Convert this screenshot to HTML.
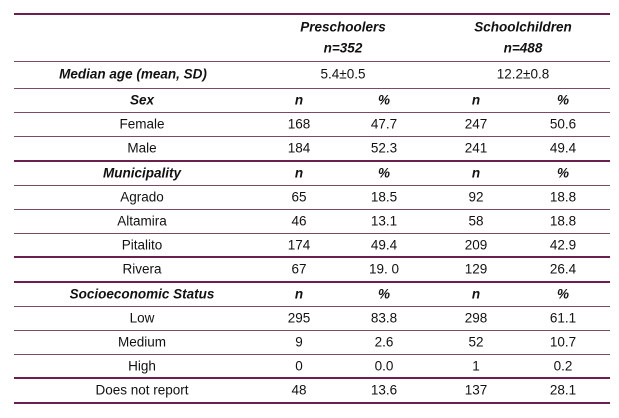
<!DOCTYPE html>
<html><head><meta charset="utf-8"><style>
body{margin:0;width:619px;height:418px;background:#fff;position:relative;overflow:hidden;font-family:"Liberation Sans",sans-serif;font-size:13.5px;color:#111}
.t{position:absolute;transform:translate(-50%,-50%);white-space:nowrap}
.b{font-weight:bold;font-style:italic}
.l{position:absolute;left:14px;width:596px;background:#7a4a68;height:1px}
.k{height:2px;background:#6b1f4f}
</style></head><body>
<div id="tbl"></div>
<script>
const rows=[
 ["Median age (mean, SD)","5.4±0.5","12.2±0.8"],
 ["Sex","n","%","n","%"],
 ["Female","168","47.7","247","50.6"],
 ["Male","184","52.3","241","49.4"],
 ["Municipality","n","%","n","%"],
 ["Agrado","65","18.5","92","18.8"],
 ["Altamira","46","13.1","58","18.8"],
 ["Pitalito","174","49.4","209","42.9"],
 ["Rivera","67","19. 0","129","26.4"],
 ["Socioeconomic Status","n","%","n","%"],
 ["Low","295","83.8","298","61.1"],
 ["Medium","9","2.6","52","10.7"],
 ["High","0","0.0","1","0.2"],
 ["Does not report","48","13.6","137","28.1"]
];
const heads=["Sex","Municipality","Socioeconomic Status"];
const tbl=document.getElementById('tbl');
function txt(s,x,y,bold,name){const d=document.createElement('div');d.className='t'+(bold?' b':'');d.style.left=x+'px';d.style.top=y+'px';d.textContent=s;


tbl.appendChild(d);}
function line(y,thick){const d=document.createElement('div');d.className='l'+(thick?' k':'');d.style.top=y+'px';


tbl.appendChild(d);}
txt("Preschoolers",343,27,true,'preschoolers-header');
txt("n=352",343,48,true,'preschoolers-n');
txt("Schoolchildren",523,27,true,'schoolchildren-header');
txt("n=488",523,48,true,'schoolchildren-n');
txt(rows[0][0],133,74,true,'median-age-label');
txt(rows[0][1],343,74,false,'preschoolers-age');
txt(rows[0][2],523,74,false,'schoolchildren-age');
const cx=[142,299,384,476,563];
for(let i=1;i<rows.length;i++){
 const y=100+(i-1)*24.2;const h=heads.includes(rows[i][0]);
 rows[i].forEach((s,j)=>txt(s,cx[j],y,h,h?'section-header-cell':'data-cell'));
}
line(13,true);line(61,false);line(88,false);
const thick=[3,7,8,12,13];
for(let i=1;i<rows.length;i++){line(Math.round(88+i*24.2)-(thick.includes(i)?1:0),thick.includes(i));}
</script>
</body></html>
